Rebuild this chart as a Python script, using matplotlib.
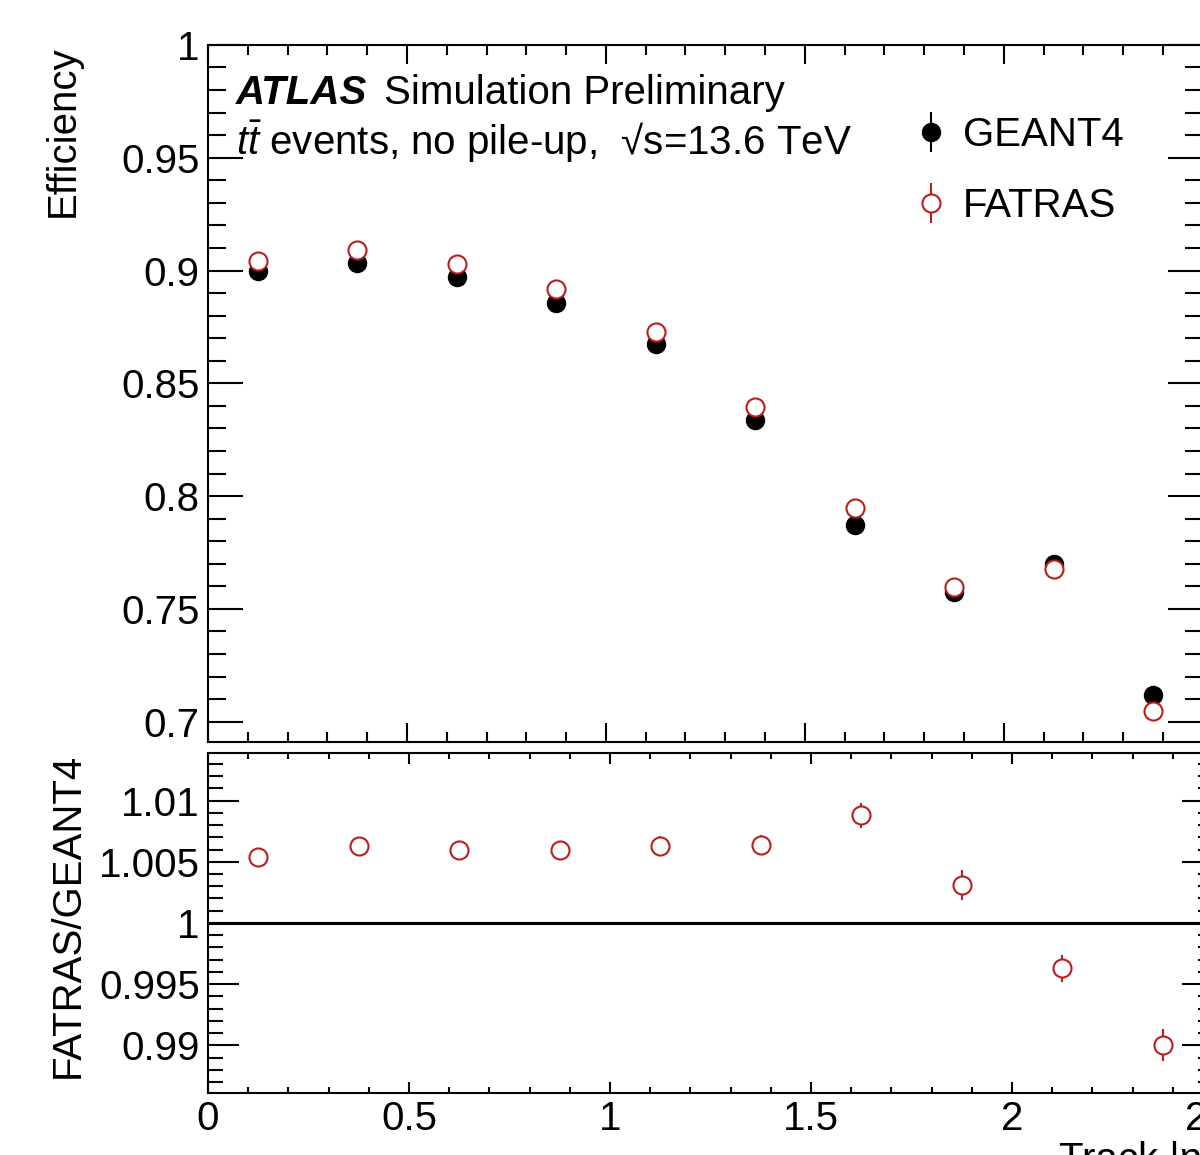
import matplotlib
matplotlib.use('Agg')
import matplotlib.pyplot as plt
from matplotlib.ticker import MultipleLocator, FuncFormatter

plt.rcParams['font.family'] = ['Liberation Sans', 'DejaVu Sans']
plt.rcParams['mathtext.fontset'] = 'custom'
plt.rcParams['mathtext.rm'] = 'Liberation Sans'
plt.rcParams['mathtext.it'] = 'Liberation Sans:italic'
plt.rcParams['mathtext.bf'] = 'Liberation Sans:bold'

eta_centers = [0.125, 0.375, 0.625, 0.875, 1.125, 1.375, 1.625, 1.875, 2.125, 2.375]

geant4_eff = [0.8996, 0.9035, 0.8973, 0.8858, 0.8676, 0.8339, 0.7874, 0.7577, 0.7701, 0.7120]
geant4_err = [0.0010, 0.0010, 0.0010, 0.0010, 0.0011, 0.0012, 0.0014, 0.0015, 0.0016, 0.0018]

fatras_eff = [0.9040, 0.9093, 0.9031, 0.8916, 0.8729, 0.8397, 0.7945, 0.7595, 0.7675, 0.7049]
fatras_err = [0.0010, 0.0010, 0.0010, 0.0010, 0.0011, 0.0012, 0.0014, 0.0015, 0.0016, 0.0018]

ratio = [1.0054, 1.0063, 1.0060, 1.0060, 1.0063, 1.0064, 1.0088, 1.0031, 0.9963, 0.9900]
ratio_err = [0.0006, 0.0006, 0.0006, 0.0007, 0.0008, 0.0008, 0.0010, 0.0012, 0.0011, 0.0013]

red = '#b81e1e'
fs = 29

def fmt(v, pos):
    return '%g' % round(v, 6)

fig = plt.figure(figsize=(12, 11.55), dpi=100)
ax1 = fig.add_axes([0.1733, 0.3576, 0.829, 0.6035])
ax2 = fig.add_axes([0.1733, 0.0537, 0.8375, 0.2944])

h1 = ax1.errorbar(eta_centers, geant4_eff, yerr=geant4_err, fmt='o', color='black',
                  ms=13, elinewidth=1.5, capsize=0, zorder=3)
h2 = ax1.errorbar(eta_centers, fatras_eff, yerr=fatras_err, fmt='o', color=red, mfc='white',
                  mec=red, mew=1.5, ms=13, elinewidth=1.5, capsize=0, zorder=4)

ax1.set_xlim(0, 2.5)
ax1.set_ylim(0.691, 1.0)
ax1.xaxis.set_major_locator(MultipleLocator(0.5))
ax1.xaxis.set_minor_locator(MultipleLocator(0.1))
ax1.yaxis.set_major_locator(MultipleLocator(0.05))
ax1.yaxis.set_minor_locator(MultipleLocator(0.01))
ax1.yaxis.set_major_formatter(FuncFormatter(fmt))
ax1.tick_params(which='both', direction='in', top=True, right=True, width=1.5,
                labelsize=fs, labelbottom=False, pad=6)
ax1.tick_params(axis='x', which='major', length=14)
ax1.tick_params(axis='x', which='minor', length=7)
ax1.tick_params(axis='y', which='major', length=25)
ax1.tick_params(axis='y', which='minor', length=13)
ax1.set_ylabel('Efficiency', fontsize=fs, loc='top')
ax1.yaxis.set_label_coords(-0.127, 1.0)

ax1.text(0.0281, 0.9153, 'ATLAS', transform=ax1.transAxes, fontsize=fs,
         fontweight='bold', fontstyle='italic', va='baseline')
ax1.text(0.1769, 0.9153, 'Simulation Preliminary', transform=ax1.transAxes,
         fontsize=fs, va='baseline')
ax1.text(0.0281, 0.8422, r'$t\bar{t}$ events, no pile-up,  √s=13.6 TeV',
         transform=ax1.transAxes, fontsize=fs, va='baseline')

ax1.legend([h1, h2], ['GEANT4', 'FATRAS'], loc='upper left', bbox_to_anchor=(0.7065, 0.898),
           frameon=False, fontsize=fs, handlelength=1.0, handletextpad=0.3,
           labelspacing=0.82, borderpad=0, borderaxespad=0)

ax2.errorbar(eta_centers, ratio, yerr=ratio_err, fmt='o', color=red, mfc='white',
             mec=red, mew=1.5, ms=13, elinewidth=1.5, capsize=0, zorder=4)
ax2.axhline(1.0, color='black', lw=2.2, zorder=2)

ax2.set_xlim(0, 2.5)
ax2.set_ylim(0.9861, 1.0139)
ax2.xaxis.set_major_locator(MultipleLocator(0.5))
ax2.xaxis.set_minor_locator(MultipleLocator(0.1))
ax2.yaxis.set_major_locator(MultipleLocator(0.005))
ax2.yaxis.set_minor_locator(MultipleLocator(0.001))
ax2.xaxis.set_major_formatter(FuncFormatter(fmt))
ax2.yaxis.set_major_formatter(FuncFormatter(fmt))
ax2.tick_params(which='both', direction='in', top=True, right=True, width=1.5,
                labelsize=fs, pad=6)
ax2.tick_params(axis='x', which='major', length=8, pad=5)
ax2.tick_params(axis='x', which='minor', length=4)
ax2.tick_params(axis='y', which='major', length=22)
ax2.tick_params(axis='y', which='minor', length=11)
ax2.set_ylabel('FATRAS/GEANT4', fontsize=fs, loc='top')
ax2.yaxis.set_label_coords(-0.1205, 1.0)
ax2.set_xlabel('Track |η|', fontsize=fs, loc='right', labelpad=2)

for ax in [ax1, ax2]:
    for s in ax.spines.values():
        s.set_linewidth(1.5)

plt.savefig('out.png', dpi=100)
